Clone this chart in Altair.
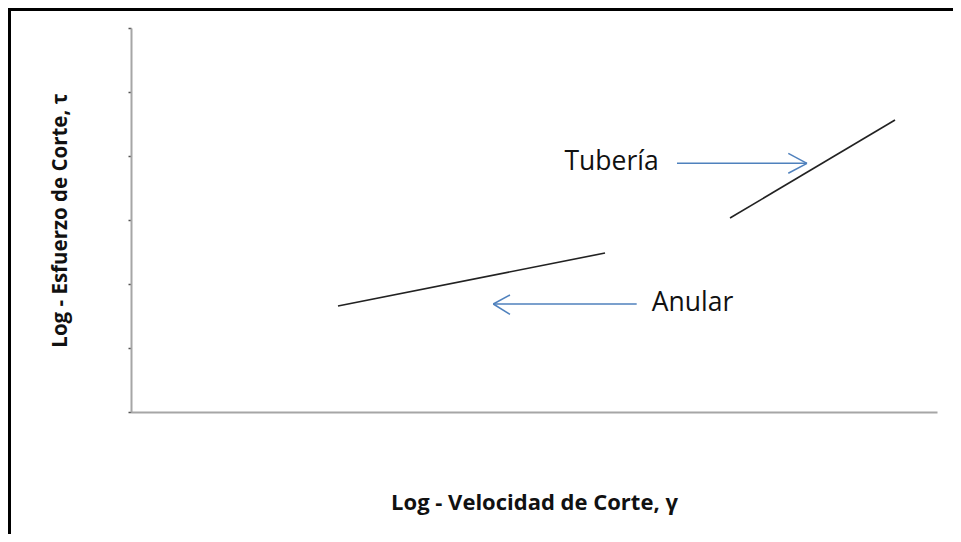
import altair as alt
import pandas as pd

# Line data (log axes, arbitrary units)
anular_x = [2.568, 5.881]
anular_y = [1.656, 2.484]
tuberia_x = [7.432, 9.479]
tuberia_y = [3.031, 4.5625]

# Arrow segments (x, y, x2, y2)
arrow_x = [6.774, 8.387, 8.387, 6.274, 4.495, 4.495]
arrow_y = [3.886, 3.886, 3.886, 1.6875, 1.6875, 1.6875]
arrow_x2 = [8.387, 8.155, 8.155, 4.495, 4.702, 4.702]
arrow_y2 = [3.886, 4.042, 3.730, 1.6875, 1.828, 1.527]

# Labels
label_text = ["Tubería", "Anular"]
label_x = [5.962, 6.966]
label_y = [3.90, 1.70]

lines = pd.DataFrame({
    "x": anular_x + tuberia_x,
    "y": anular_y + tuberia_y,
    "serie": ["Anular"] * 2 + ["Tubería"] * 2,
})
arrows = pd.DataFrame({"x": arrow_x, "y": arrow_y, "x2": arrow_x2, "y2": arrow_y2})
labels = pd.DataFrame({"t": label_text, "x": label_x, "y": label_y})

xscale = alt.Scale(domain=[0, 10], nice=False, zero=False)
yscale = alt.Scale(domain=[0, 6], nice=False, zero=False)

base_x = alt.X("x:Q", scale=xscale,
               axis=alt.Axis(title="Log - Velocidad  de Corte, γ", labels=False, ticks=False,
                             grid=False, domainColor="#a6a6a6", domainWidth=2,
                             titleFont="Open Sans", titleFontSize=22, titleFontWeight="bold",
                             titleColor="#111111", titlePadding=80))
base_y = alt.Y("y:Q", scale=yscale,
               axis=alt.Axis(title="Log - Esfuerzo de Corte, τ", labels=False, ticks=True,
                             tickSize=3, tickColor="#555555", tickWidth=1.5,
                             values=[0, 1, 2, 3, 4, 5, 6],
                             grid=False, domainColor="#a6a6a6", domainWidth=2,
                             titleFont="Open Sans", titleFontSize=20.5, titleFontWeight="bold",
                             titleColor="#111111", titlePadding=57))

line_chart = alt.Chart(lines).mark_line(color="#222222", strokeWidth=1.6).encode(
    x=base_x, y=base_y, detail="serie:N")

arrow_chart = alt.Chart(arrows).mark_rule(color="#4f81bd", strokeWidth=1.5).encode(
    x="x:Q", y="y:Q", x2="x2:Q", y2="y2:Q")

text_chart = alt.Chart(labels).mark_text(font="Open Sans", fontSize=26.5, color="#111111",
                                         align="center", baseline="middle").encode(
    x="x:Q", y="y:Q", text="t:N")

frame_top = alt.Chart(pd.DataFrame({"a": [0]})).mark_rule(color="#000000", strokeWidth=3).encode(
    x=alt.value(-123), x2=alt.value(822), y=alt.value(-18.5))
frame_left = alt.Chart(pd.DataFrame({"a": [0]})).mark_rule(color="#000000", strokeWidth=3).encode(
    x=alt.value(-121.5), y=alt.value(-20), y2=alt.value(506))

chart = alt.layer(frame_top, frame_left, line_chart, arrow_chart, text_chart).properties(
    width=806, height=384,
    autosize=alt.AutoSizeParams(type="none"),
    padding={"left": 123, "top": 20, "right": 16, "bottom": 122},
).configure_view(stroke=None)

chart.save("out.html", embed_options={"renderer": "svg", "actions": False})
